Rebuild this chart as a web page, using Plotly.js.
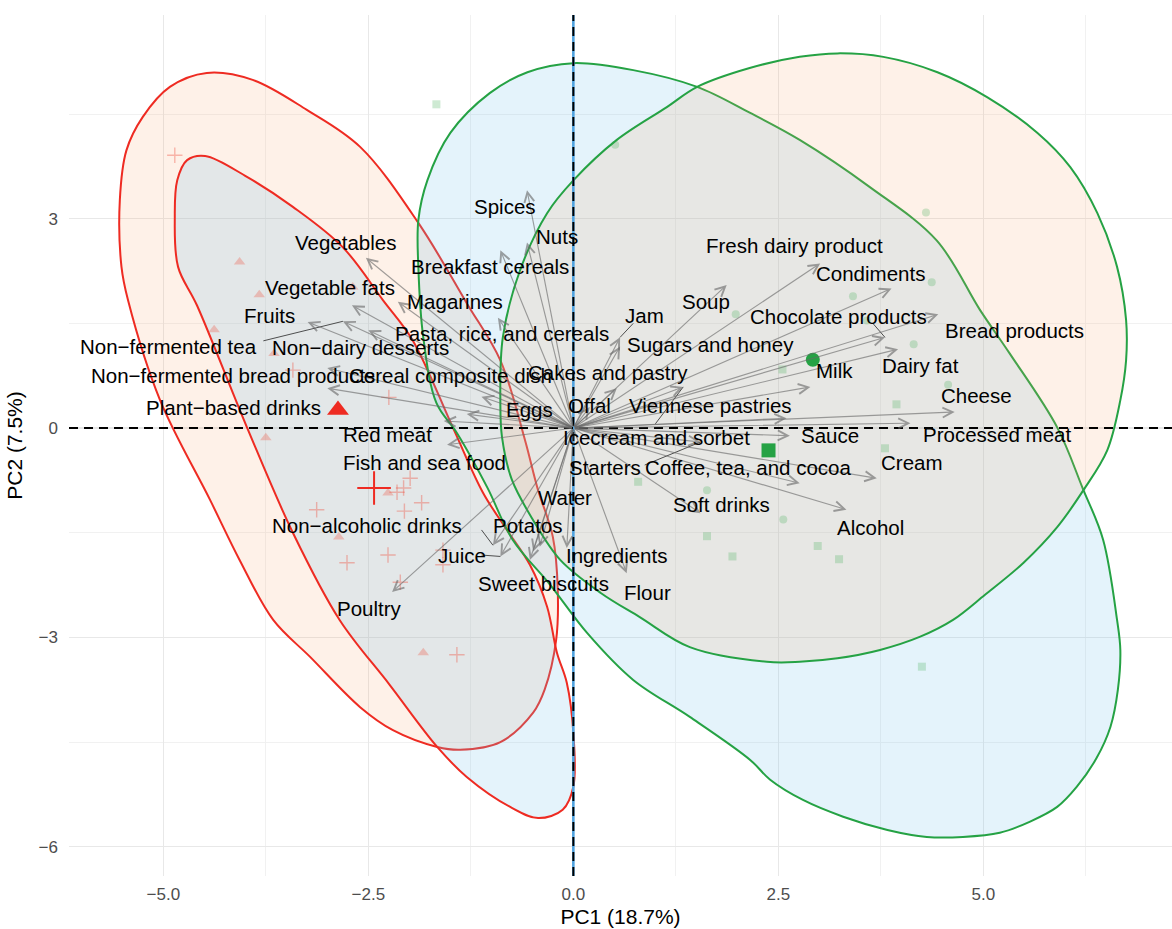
<!DOCTYPE html>
<html>
<head>
<meta charset="utf-8">
<script src="https://cdn.plot.ly/plotly-3.0.1.min.js"></script>
<style>html,body{margin:0;padding:0;background:#fff;}#chart{width:1172px;height:929px;}</style>
</head>
<body>
<div id="chart"></div>
<script>
// ---------------- DATA ----------------
// Variable loadings (arrow tips) and their label positions
const varNames = ["Spices","Nuts","Breakfast cereals","Vegetables","Vegetable fats","Magarines","Fruits",
  "Non\u2212fermented tea","Non\u2212dairy desserts","Pasta, rice, and cereals","Non\u2212fermented bread products",
  "Cereal composite dish","Cakes and pastry","Plant\u2212based drinks","Eggs","Offal","Red meat",
  "Icecream and sorbet","Fish and sea food","Starters","Water","Non\u2212alcoholic drinks","Potatos","Juice",
  "Ingredients","Sweet biscuits","Flour","Poultry","Jam","Soup","Fresh dairy product","Condiments",
  "Chocolate products","Sugars and honey","Bread products","Milk","Dairy fat","Cheese","Viennese pastries",
  "Sauce","Processed meat","Cream","Coffee, tea, and cocoa","Soft drinks","Alcohol"];
const tipX = [-0.565,-0.565,-0.89,-2.53,-2.70,-2.14,-3.24,-2.81,-2.50,-0.92,-3.00,-3.00,0.53,-1.30,-1.12,0.20,-1.58,
  1.34,-1.54,1.55,-0.41,-0.98,-0.49,-0.89,-0.08,-0.53,0.65,-2.21,0.57,1.87,3.01,3.88,3.80,0.57,4.45,2.89,3.96,4.65,
  2.60,2.64,4.11,3.70,2.76,1.55,3.33];
const tipY = [3.41,2.66,2.55,2.44,1.76,1.81,1.52,1.53,1.40,1.58,0.57,0.86,0.57,0.20,0.45,0.30,0.10,
  0.59,-0.24,-0.20,-1.70,-1.68,-1.77,-1.84,-1.72,-1.89,-2.08,-2.35,1.30,2.05,2.36,2.00,1.30,1.17,1.63,0.59,1.13,0.23,
  0.14,-0.11,0.07,-0.72,-0.79,-1.22,-1.17];
const labX = [-0.83,-0.20,-1.02,-2.78,-2.97,-1.44,-3.70,-4.94,-2.60,-0.87,-4.15,-1.50,0.42,-4.15,-0.53,0.20,-2.27,
  1.01,-1.81,0.39,-0.10,-2.52,-0.55,-1.36,0.53,-0.37,0.91,-2.48,0.87,1.62,2.70,3.62,3.23,1.67,5.38,3.19,4.23,4.92,
  1.67,3.13,5.17,4.13,2.13,1.81,3.62];
const labY = [3.17,2.75,2.31,2.66,2.02,1.81,1.62,1.17,1.15,1.35,0.75,0.75,0.80,0.30,0.26,0.33,-0.09,
  -0.14,-0.50,-0.57,-0.99,-1.40,-1.40,-1.82,-1.82,-2.23,-2.36,-2.59,1.62,1.81,2.62,2.22,1.60,1.20,1.40,0.83,0.89,0.46,
  0.33,-0.10,-0.09,-0.50,-0.57,-1.09,-1.43];

// Label leader segments (label end point -> arrow tip)
const leaderNames = ["Non\u2212fermented tea","Jam","Chocolate products","Icecream and sorbet","Starters","Non\u2212alcoholic drinks","Juice"];
const leaderFromX = [-3.78,0.73,3.66,1.00,0.87,-1.12,-1.12];
const leaderFromY = [1.25,1.50,1.49,0.06,-0.53,-1.46,-1.82];

// Individuals, group 1 (red)
const redTriX = [-4.07,-3.83,-2.69,-4.38,-3.65,-3.75,-2.86,-2.26,-1.83];
const redTriY = [2.38,1.91,2.02,1.41,1.07,-0.14,-1.56,-0.93,-3.22];
const redPlusX = [-4.86,-3.42,-2.25,-3.13,-1.99,-2.07,-2.15,-1.85,-2.06,-2.26,-2.76,-1.59,-1.59,-2.11,-1.42];
const redPlusY = [3.91,0.83,0.44,-1.17,-0.72,-0.86,-0.92,-1.07,-1.19,-1.82,-1.93,-1.75,-1.96,-2.21,-3.25];
const redTriMean = [-2.87, 0.26];
const redPlusMean = [-2.43, -0.86];

// Individuals, group 2 (green)
const greenSqX = [-1.67,3.94,3.80,2.98,3.24,4.25,2.55,0.79,1.63,1.94];
const greenSqY = [4.64,0.34,-0.29,-1.69,-1.88,-3.42,0.84,-0.77,-1.55,-1.84];
const greenCirX = [0.51,4.30,4.37,3.41,1.98,4.15,4.57,2.56,1.63,3.58];
const greenCirY = [4.06,3.09,2.09,1.89,1.63,1.20,0.62,-1.31,-0.89,1.54];
const greenCirMean = [2.92, 0.98];
const greenSqMean = [2.38, -0.32];

// Confidence ellipse outlines
const redPeachX = [-4.47,-3.91,-3.25,-2.60,-1.89,-1.30,-0.89,-0.59,-0.44,-0.25,-0.19,-0.21,-0.35,-0.49,-0.89,-1.38,-1.66,-2.20,-2.60,-3.21,-3.66,-4.07,-4.43,-5.04,-5.43,-5.51,-5.53,-5.45,-5.25,-4.92,-4.47];
const redPeachY = [5.09,4.99,4.56,4.03,2.94,1.79,0.97,-0.17,-0.85,-1.56,-2.32,-3.04,-3.75,-4.08,-4.50,-4.61,-4.57,-4.33,-4.00,-3.28,-2.75,-1.89,-1.03,0.40,1.83,2.31,3.27,3.98,4.46,4.89,5.09];
const redBlueX = [-4.49,-3.98,-3.42,-2.81,-2.32,-1.96,-1.47,-1.10,-0.81,-0.53,-0.32,-0.20,-0.08,0.00,0.00,-0.13,-0.43,-0.77,-1.30,-1.66,-2.24,-2.85,-3.42,-3.98,-4.59,-4.82,-4.86,-4.83,-4.71,-4.49];
const redBlueY = [3.90,3.60,3.17,2.59,1.83,1.26,0.01,-0.93,-1.46,-1.96,-2.56,-3.22,-3.65,-4.37,-5.14,-5.47,-5.59,-5.43,-5.00,-4.57,-3.68,-2.75,-1.50,0.01,1.76,2.31,3.02,3.55,3.84,3.90];
const greenBlueX = [0.00,0.73,1.51,2.15,2.76,3.62,4.43,4.96,5.32,5.90,6.21,6.46,6.63,6.67,6.64,6.55,6.38,6.14,5.90,5.57,5.20,4.75,4.31,3.83,3.29,2.80,2.40,2.16,1.42,0.73,0.17,-0.28,-0.74,-1.05,-1.42,-1.67,-1.83,-1.89,-1.89,-1.78,-1.50,-1.02,-0.56,0.00];
const greenBlueY = [5.23,5.13,4.89,4.52,4.13,3.45,2.69,1.69,1.07,0.01,-0.86,-1.60,-2.75,-3.18,-3.75,-4.28,-4.73,-5.14,-5.43,-5.64,-5.80,-5.86,-5.86,-5.76,-5.57,-5.33,-5.04,-4.76,-4.14,-3.61,-2.94,-2.25,-1.60,-0.85,-0.07,0.36,1.30,2.31,2.98,3.55,4.23,4.80,5.10,5.23];
const greenPeachX = [3.22,3.78,4.44,5.05,5.66,6.06,6.39,6.63,6.74,6.74,6.67,6.51,6.22,5.90,5.49,5.02,4.63,4.23,3.74,3.22,2.76,2.36,1.42,0.81,0.33,-0.16,-0.49,-0.75,-0.87,-0.89,-0.86,-0.65,-0.32,0.00,0.53,1.14,1.51,2.15,2.76,3.22];
const greenPeachY = [5.37,5.32,5.10,4.74,4.23,3.74,3.08,2.31,1.55,0.97,0.40,-0.32,-0.89,-1.42,-1.93,-2.39,-2.75,-2.99,-3.18,-3.30,-3.35,-3.35,-3.14,-2.71,-2.36,-1.89,-1.32,-0.74,-0.13,0.36,1.30,2.26,3.08,3.55,4.13,4.60,4.89,5.16,5.32,5.37];

// Axis tick labels
const xTickVals = [-5, -2.5, 0, 2.5, 5];
const xTickText = ["\u22125.0", "\u22122.5", "0.0", "2.5", "5.0"];
const yTickVals = [-6, -3, 0, 3];
const yTickText = ["\u22126", "\u22123", "0", "3"];

// ---------------- STYLE ----------------
const FONT = "Liberation Sans, Arial, Helvetica, sans-serif";
const RED = "#EE2B22", GREEN = "#25A244";
const PEACH_FILL = "rgba(248,170,110,0.16)", BLUE_FILL = "rgba(120,195,235,0.2)";

const traces = [];
function ell(x, y, line, fill) {
  traces.push({type:"scatter", mode:"lines", x:x, y:y, fill:"toself", fillcolor:fill,
    line:{color:line, width:2, shape:"spline", smoothing:1}, hoverinfo:"skip", showlegend:false});
}
ell(redPeachX, redPeachY, RED, PEACH_FILL);
ell(redBlueX, redBlueY, RED, BLUE_FILL);
ell(greenBlueX, greenBlueY, GREEN, BLUE_FILL);
ell(greenPeachX, greenPeachY, GREEN, PEACH_FILL);

// small individual points
traces.push({type:"scatter", mode:"markers", x:redTriX, y:redTriY,
  marker:{symbol:"triangle-up", size:10, color:"rgba(238,80,60,0.3)"}, showlegend:false, hoverinfo:"skip"});
traces.push({type:"scatter", mode:"markers", x:redPlusX, y:redPlusY,
  marker:{symbol:"cross-thin", size:11, line:{width:1.4, color:"rgba(238,80,60,0.38)"}}, showlegend:false, hoverinfo:"skip"});
traces.push({type:"scatter", mode:"markers", x:greenCirX, y:greenCirY,
  marker:{symbol:"circle", size:8, color:"rgba(60,170,80,0.25)"}, showlegend:false, hoverinfo:"skip"});
traces.push({type:"scatter", mode:"markers", x:greenSqX, y:greenSqY,
  marker:{symbol:"square", size:8, color:"rgba(60,170,80,0.25)"}, showlegend:false, hoverinfo:"skip"});

// axes lines at 0
const yr = [-6.42, 5.92], xr = [-6.15, 7.30];
traces.push({type:"scatter", mode:"lines", x:[0,0], y:yr, line:{color:"#4FA3E0", width:2.6}, showlegend:false, hoverinfo:"skip"});
traces.push({type:"scatter", mode:"lines", x:[0,0], y:yr, line:{color:"#000", width:2, dash:"9px,6px"}, showlegend:false, hoverinfo:"skip"});
traces.push({type:"scatter", mode:"lines", x:xr, y:[0,0], line:{color:"#000", width:2, dash:"9px,6px"}, showlegend:false, hoverinfo:"skip"});

// group means
traces.push({type:"scatter", mode:"markers", x:[redTriMean[0]], y:[redTriMean[1]],
  marker:{symbol:"triangle-up", size:19, color:RED}, showlegend:false, hoverinfo:"skip"});
traces.push({type:"scatter", mode:"markers", x:[redPlusMean[0]], y:[redPlusMean[1]],
  marker:{symbol:"cross-thin", size:24, line:{width:2, color:RED}}, showlegend:false, hoverinfo:"skip"});
traces.push({type:"scatter", mode:"markers", x:[greenCirMean[0]], y:[greenCirMean[1]],
  marker:{symbol:"circle", size:14, color:GREEN}, showlegend:false, hoverinfo:"skip"});
traces.push({type:"scatter", mode:"markers", x:[greenSqMean[0]], y:[greenSqMean[1]],
  marker:{symbol:"square", size:14, color:GREEN}, showlegend:false, hoverinfo:"skip"});

// leader segments
const lx = [], ly = [];
leaderNames.forEach((n, i) => {
  const k = varNames.indexOf(n);
  lx.push(leaderFromX[i], tipX[k], null);
  ly.push(leaderFromY[i], tipY[k], null);
});
traces.push({type:"scatter", mode:"lines", x:lx, y:ly, line:{color:"rgba(50,50,50,0.85)", width:1},
  showlegend:false, hoverinfo:"skip"});

const annotations = [];
varNames.forEach((n, i) => {
  annotations.push({x:tipX[i], y:tipY[i], ax:0, ay:0, xref:"x", yref:"y", axref:"x", ayref:"y",
    text:"", showarrow:true, arrowhead:5, arrowsize:1.7, arrowwidth:1.15, arrowcolor:"rgba(105,105,105,0.62)"});
});
varNames.forEach((n, i) => {
  annotations.push({x:labX[i], y:labY[i], xref:"x", yref:"y", text:n, showarrow:false,
    xanchor:"center", yanchor:"middle", font:{family:FONT, size:20.5, color:"#000"}});
});

const layout = {
  width:1172, height:929,
  margin:{l:69, r:0, t:15, b:53},
  paper_bgcolor:"#fff", plot_bgcolor:"#fff",
  showlegend:false,
  font:{family:FONT},
  xaxis:{range:xr, tickvals:xTickVals, ticktext:xTickText, zeroline:false, showline:false,
    gridcolor:"#E8E8E8", gridwidth:1.3, ticks:"", ticklabelstandoff:6,
    tickfont:{family:FONT, size:17, color:"#4D4D4D"},
    minor:{dtick:1.25, tick0:0, showgrid:true, gridcolor:"#F0F0F0", gridwidth:0.9},
    title:{text:"PC1 (18.7%)", font:{family:FONT, size:21, color:"#000"}, standoff:6}, automargin:false},
  yaxis:{range:yr, tickvals:yTickVals, ticktext:yTickText, zeroline:false, showline:false,
    gridcolor:"#E8E8E8", gridwidth:1.3, ticks:"", ticklabelstandoff:10,
    tickfont:{family:FONT, size:17, color:"#4D4D4D"},
    minor:{dtick:1.5, tick0:0, showgrid:true, gridcolor:"#F0F0F0", gridwidth:0.9},
    title:{text:"PC2 (7.5%)", font:{family:FONT, size:21, color:"#000"}, standoff:10}, automargin:false},
  annotations:annotations,
  hovermode:false
};

Plotly.newPlot("chart", traces, layout, {staticPlot:true, displayModeBar:false});
</script>
</body>
</html>
